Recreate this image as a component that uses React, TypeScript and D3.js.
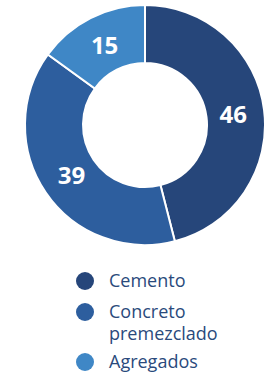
import * as d3 from "d3"
import React from "react"

// chart data
const categories = ["Cemento", "Concreto premezclado", "Agregados"]
const values = [46, 39, 15]
const colours = ["#26467a", "#2d5e9e", "#3f87c6"]
// legend text split into lines
const legendLines = [["Cemento"], ["Concreto", "premezclado"], ["Agregados"]]

const W = 266, H = 374
const cx = 145, cy = 125
const outerR = 120, innerR = 62

export default function App() {
  const pie = d3.pie<number>().sort(null).value(d => d)
  const arcs = pie(values)
  const arc = d3.arc<d3.PieArcDatum<number>>().innerRadius(innerR).outerRadius(outerR)
  const labelArc = d3.arc<d3.PieArcDatum<number>>().innerRadius(89).outerRadius(89)

  // legend row positions
  const legendY = d3.scaleOrdinal<number, number>().domain([0, 1, 2]).range([281, 312, 362])

  return (
    <svg width={W} height={H} style={{ position: "absolute", left: 0, top: 0 }}
      fontFamily="'Open Sans', 'Noto Sans', sans-serif">
      <rect width={W} height={H} fill="#fff" />
      <g transform={`translate(${cx},${cy})`}>
        {arcs.map((a, i) => (
          <path key={i} d={arc(a) || ""} fill={colours[i]} stroke="#fff" strokeWidth={2} />
        ))}
        {arcs.map((a, i) => {
          const [x, y] = labelArc.centroid(a)
          return (
            <text key={i} x={x} y={y} dy="0.36em" textAnchor="middle" fill="#fff"
              fontSize={24} fontWeight="bold">{values[i]}</text>
          )
        })}
      </g>
      <g>
        {categories.map((c, i) => (
          <g key={c} transform={`translate(0,${legendY(i)})`}>
            <circle cx={85} cy={0} r={9} fill={colours[i]} />
            {legendLines[i].map((t, j) => (
              <text key={j} x={109} y={j * 22} dy="0.36em" fontSize={18} fill="#2a4a7c">{t}</text>
            ))}
          </g>
        ))}
      </g>
    </svg>
  )
}
